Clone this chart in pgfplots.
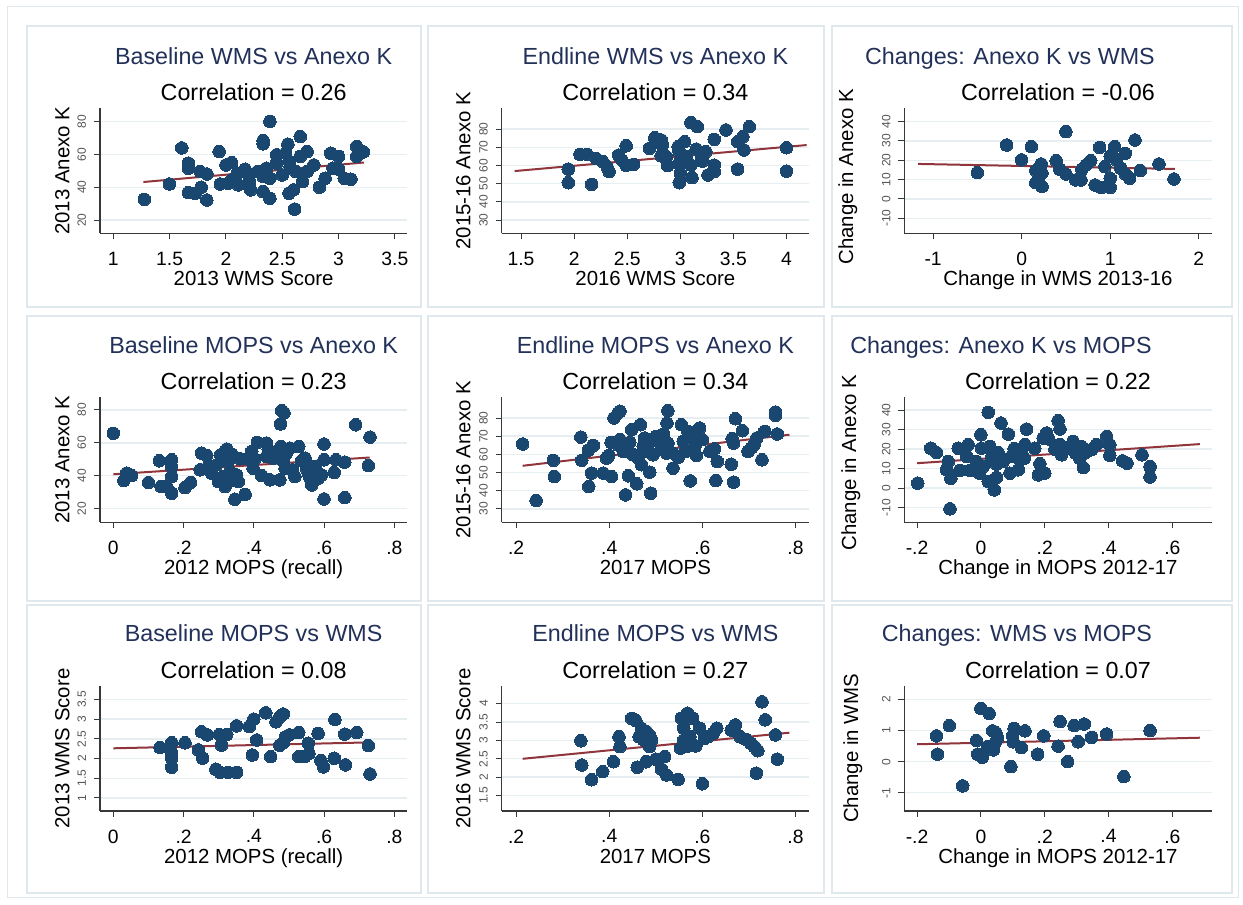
\documentclass[border=0pt]{standalone}
\usepackage{fontspec}
\setmainfont{Liberation Sans}
\usepackage{pgfplots}
\pgfplotsset{compat=1.18}
\definecolor{stnavy}{RGB}{26,71,111}
\definecolor{stmaroon}{RGB}{144,53,59}
\definecolor{sttitle}{RGB}{34,49,89}
\definecolor{stgrid}{RGB}{230,238,241}
\definecolor{stframe}{RGB}{222,232,237}
\definecolor{sttick}{RGB}{85,85,85}
\newcommand{\tfont}{\fontsize{23.3}{27}\selectfont}
\newcommand{\lfont}{\fontsize{20.4}{24}\selectfont}
\newcommand{\xtfont}{\fontsize{19.3}{22}\selectfont}
\newcommand{\ytfont}{\fontsize{12}{14}\selectfont}
\pgfplotsset{
  stata/.style={
    scale only axis, width=307.3pt, height=125pt,
    anchor=south west,
    axis x line*=bottom, axis y line*=left,
    axis line style={black!78, line width=1.1pt, -},
    tick align=outside, major tick length=6pt,
    tick style={black!78, line width=1pt},
    ymajorgrids, grid style={stgrid, line width=1.4pt},
    clip=false,
    xticklabel style={font=\xtfont, anchor=north, inner sep=0pt},
    xticklabel shift=12.5pt,
    yticklabel style={font=\ytfont, color=sttick, rotate=90, anchor=south, inner sep=0pt},
    yticklabel shift=7.7pt,
    title style={font=\tfont, color=sttitle, anchor=base, inner sep=0pt},
    xlabel style={font=\lfont, anchor=base, inner sep=0pt, at={([yshift=-52.3pt]axis description cs:0.5,0)}},
    ylabel style={font=\lfont, anchor=base, inner sep=0pt},
  },
  dots/.style={only marks, mark=*, mark size=6.3pt, mark options={fill=stnavy, draw=stnavy, line width=0pt}},
  fitl/.style={no marks, stmaroon, line width=2pt},
}
\newcommand{\subt}[1]{\node[font=\tfont, anchor=base, inner sep=0pt] at ([yshift=7.5pt]rel axis cs:0.5,1) {#1};}
\begin{document}
\begin{tikzpicture}[x=1pt,y=1pt]
\path[fill=white] (0pt,0pt) rectangle (1243pt,905pt);
\useasboundingbox (0pt,0pt) rectangle (1243pt,905pt);
\draw[stframe, line width=1pt] (7pt,7pt) rectangle (1238pt,898pt);
\foreach \xa/\xb in {27/421,428/824,832/1232}{
  \foreach \ya/\yb in {598/879,304/589,12/300}{
    \draw[stframe, line width=1.2pt] (\xa pt,\ya pt) rectangle (\xb pt,\yb pt);
  }
}
% ---------- Panel 1
\begin{axis}[stata, at={(100pt,671.7pt)},
  xmin=0.882, xmax=3.61, ymin=11.9, ymax=88.2,
  xtick={1,1.5,2,2.5,3,3.5}, xticklabels={1,1.5,2,2.5,3,3.5},
  ytick={20,40,60,80}, yticklabels={20,40,60,80},
  title={Baseline WMS vs Anexo K}, title style={at={([yshift=38pt]axis description cs:0.5,1)}},
  xlabel={2013 WMS Score},
  ylabel={2013 Anexo K}, ylabel style={at={([xshift=-30.7pt]axis description cs:0,0.5)}}]
\addplot[dots] coordinates {
(1.276,32.6)(1.498,42.0)(1.608,64.0)(1.667,54.7)(1.667,51.6)(1.667,36.7)(1.727,36.3)
(1.771,49.6)(1.78,40.0)(1.83,48.1)(1.83,32.2)(1.94,61.8)(1.95,42.0)(2.0,53.6)(2.02,42.4)
(2.05,55.1)(2.10,48.6)(2.11,41.4)(2.17,51.0)(2.19,48.6)(2.21,43.4)(2.22,38.4)(2.28,49.6)
(2.33,68.5)(2.33,66.5)(2.33,46.5)(2.33,37.3)(2.36,51.6)(2.39,80.2)(2.39,45.5)(2.39,33.3)
(2.45,59.8)(2.45,54.7)(2.50,47.5)(2.53,60.8)(2.55,66.3)(2.56,36.3)(2.57,52.6)(2.60,38.4)
(2.62,49.6)(2.61,26.7)(2.66,71.0)(2.66,58.8)(2.68,43.4)(2.72,61.8)(2.72,49.6)(2.78,53.6)
(2.83,40.0)(2.88,45.5)(2.93,60.8)(2.95,51.6)(3.0,58.8)(3.0,51.0)(3.05,45.5)(3.11,44.9)
(3.16,64.9)(3.16,58.8)(3.22,61.6)(2.06,45.0)(2.56,56.0)};
\addplot[fitl] coordinates {(1.267,43.2)(3.224,55.1)};
\subt{Correlation = 0.26}
\end{axis}
% ---------- Panel 2
\begin{axis}[stata, at={(501.7pt,671.7pt)},
  xmin=1.318, xmax=4.212, ymin=22.7, ymax=91.4,
  xtick={1.5,2,2.5,3,3.5,4}, xticklabels={1.5,2,2.5,3,3.5,4},
  ytick={30,40,50,60,70,80}, yticklabels={30,40,50,60,70,80},
  title={Endline WMS vs Anexo K}, title style={at={([yshift=38pt]axis description cs:0.5,1)}},
  xlabel={2016 WMS Score},
  ylabel={2015-16 Anexo K}, ylabel style={at={([xshift=-31.4pt]axis description cs:0,0.5)}}]
\addplot[dots] coordinates {
(1.945,58.0)(1.945,50.5)(2.055,66.1)(2.118,66.1)(2.165,49.6)(2.21,63.7)(2.27,62.1)
(2.31,59.3)(2.33,56.6)(2.42,65.7)(2.45,63.0)(2.49,70.8)(2.49,60.0)(2.56,60.6)(2.71,69.4)
(2.76,75.2)(2.82,74.0)(2.83,71.0)(2.82,65.3)(2.88,59.9)(2.87,64.8)(2.98,70.3)(2.99,67.5)
(2.99,61.1)(3.0,55.6)(2.99,50.5)(3.04,73.0)(3.06,64.8)(3.10,83.5)(3.10,60.2)(3.11,53.3)
(3.16,81.3)(3.15,69.0)(3.20,64.8)(3.21,62.4)(3.26,54.7)(3.32,74.3)(3.32,60.2)(3.32,56.6)
(3.43,79.5)(3.54,73.0)(3.54,58.0)(3.59,75.8)(3.60,68.5)(3.65,81.3)(4.0,69.7)(4.0,56.9)
(3.24,67.5)};
\addplot[fitl] coordinates {(1.44,56.9)(4.19,71.2)};
\subt{Correlation = 0.34}
\end{axis}
% ---------- Panel 3
\begin{axis}[stata, at={(904.3pt,671.7pt)},
  xmin=-1.325, xmax=2.145, ymin=-17.8, ymax=46.9,
  xtick={-1,0,1,2}, xticklabels={-1,0,1,2},
  ytick={-10,0,10,20,30,40}, yticklabels={-10,0,10,20,30,40},
  title={Changes: Anexo K vs WMS}, title style={at={([xshift=-48pt,yshift=38pt]axis description cs:0.5,1)}},
  xlabel={Change in WMS 2013-16},
  ylabel={Change in Anexo K}, ylabel style={at={([xshift=-51.3pt,yshift=-6pt]axis description cs:0,0.5)}}]
\addplot[dots] coordinates {
(-0.50,13.6)(-0.17,27.9)(0.0,20.2)(0.11,27.1)(0.16,14.7)(0.16,8.4)(0.22,18.1)(0.23,6.4)
(0.23,13.3)(0.39,19.8)(0.43,15.3)(0.50,34.8)(0.50,12.9)(0.61,9.8)(0.67,9.8)(0.68,15.3)
(0.73,17.6)(0.78,19.8)(0.83,7.2)(0.88,26.7)(0.90,5.9)(0.94,16.7)(1.0,22.2)(1.0,10.7)
(1.0,5.9)(1.05,27.1)(1.07,20.2)(1.12,15.9)(1.17,23.6)(1.17,12.9)(1.22,10.7)(1.28,30.5)
(1.34,14.7)(1.55,18.1)(1.72,10.3)};
\addplot[fitl] coordinates {(-1.17,18.1)(1.73,15.5)};
\subt{Correlation = -0.06}
\end{axis}
% ---------- Panel 4
\begin{axis}[stata, at={(100pt,382.7pt)},
  xmin=-0.038, xmax=0.837, ymin=11.7, ymax=87.7,
  xtick={0,0.2,0.4,0.6,0.8}, xticklabels={0,.2,.4,.6,.8},
  ytick={20,40,60,80}, yticklabels={20,40,60,80},
  title={Baseline MOPS vs Anexo K}, title style={at={([yshift=38pt]axis description cs:0.5,1)}},
  xlabel={2012 MOPS (recall)},
  ylabel={2013 Anexo K}, ylabel style={at={([xshift=-30.7pt]axis description cs:0,0.5)}}]
\addplot[dots] coordinates {
(0.0,65.8)(0.030,37.1)(0.038,41.6)(0.052,40.1)(0.10,35.9)(0.131,49.1)(0.136,33.4)
(0.152,33.4)(0.166,49.7)(0.166,45.6)(0.166,39.5)(0.166,29.4)(0.204,32.8)(0.22,35.9)
(0.251,53.8)(0.247,43.6)(0.266,52.3)(0.27,45.6)(0.28,41.6)(0.294,46.6)(0.299,36.5)
(0.305,52.7)(0.313,39.5)(0.318,33.4)(0.323,56.2)(0.327,48.7)(0.332,42.6)(0.337,53.2)
(0.342,37.5)(0.346,25.7)(0.351,40.5)(0.356,36.5)(0.375,28.7)(0.361,50.3)(0.38,50.3)
(0.394,54.8)(0.398,44.6)(0.403,50.3)(0.41,60.3)(0.422,40.1)(0.436,59.9)(0.441,56.2)
(0.446,37.5)(0.455,50.7)(0.465,54.8)(0.474,37.5)(0.476,71.5)(0.479,79.6)(0.486,78.2)
(0.477,57.8)(0.484,48.7)(0.489,44.6)(0.493,53.8)(0.503,56.8)(0.51,43.6)(0.517,39.5)
(0.528,57.8)(0.536,49.1)(0.546,50.7)(0.55,44.6)(0.555,41.6)(0.56,38.5)(0.565,34.4)
(0.574,45.6)(0.583,38.5)(0.593,40.5)(0.60,59.3)(0.60,49.7)(0.60,25.9)(0.629,42.0)
(0.634,49.7)(0.659,48.3)(0.659,26.7)(0.69,71.0)(0.726,46.2)(0.731,63.5)(0.436,51.7)};
\addplot[fitl] coordinates {(0,40.9)(0.73,51.1)};
\subt{Correlation = 0.23}
\end{axis}
% ---------- Panel 5
\begin{axis}[stata, at={(501.7pt,382.7pt)},
  xmin=0.169, xmax=0.829, ymin=22.6, ymax=91.4,
  xtick={0.2,0.4,0.6,0.8}, xticklabels={.2,.4,.6,.8},
  ytick={30,40,50,60,70,80}, yticklabels={30,40,50,60,70,80},
  title={Endline MOPS vs Anexo K}, title style={at={([yshift=38pt]axis description cs:0.5,1)}},
  xlabel={2017 MOPS},
  ylabel={2015-16 Anexo K}, ylabel style={at={([xshift=-31.4pt]axis description cs:0,0.5)}}]
\addplot[dots] coordinates {
(0.214,65.7)(0.243,34.6)(0.28,56.7)(0.282,47.8)(0.339,69.5)(0.341,56.7)(0.355,62.2)
(0.356,42.3)(0.362,49.7)(0.366,64.9)(0.387,49.7)(0.399,59.4)(0.404,66.6)(0.405,47.8)
(0.41,80.0)(0.419,82.8)(0.423,83.7)(0.419,65.3)(0.423,68.1)(0.43,61.6)(0.435,37.7)
(0.441,48.2)(0.444,66.6)(0.448,73.6)(0.451,59.8)(0.459,43.8)(0.462,57.9)(0.467,76.3)
(0.469,54.3)(0.473,64.4)(0.476,69.0)(0.48,61.6)(0.487,66.6)(0.487,50.2)(0.489,38.6)
(0.494,59.8)(0.501,69.9)(0.512,63.5)(0.516,71.2)(0.523,60.7)(0.526,84.0)(0.524,77.2)
(0.526,66.2)(0.537,52.4)(0.548,58.3)(0.555,76.3)(0.559,67.1)(0.564,61.6)(0.569,72.6)
(0.574,45.4)(0.579,69.0)(0.584,64.4)(0.587,59.4)(0.591,69.9)(0.594,74.5)(0.6,68.1)
(0.616,61.6)(0.626,63.1)(0.629,45.6)(0.632,56.1)(0.662,54.6)(0.664,68.6)(0.667,66.2)
(0.667,44.7)(0.671,79.6)(0.686,73.0)(0.698,61.6)(0.705,63.5)(0.712,65.7)(0.717,69.0)
(0.728,57.0)(0.734,72.6)(0.757,83.3)(0.757,81.5)(0.761,71.2)(0.394,57.9)(0.537,60.7)};
\addplot[fitl] coordinates {(0.214,53.7)(0.787,70.8)};
\subt{Correlation = 0.34}
\end{axis}
% ---------- Panel 6
\begin{axis}[stata, at={(904.3pt,382.7pt)},
  xmin=-0.240, xmax=0.723, ymin=-17.5, ymax=46.6,
  xtick={-0.2,0,0.2,0.4,0.6}, xticklabels={-.2,0,.2,.4,.6},
  ytick={-10,0,10,20,30,40}, yticklabels={-10,0,10,20,30,40},
  title={Changes: Anexo K vs MOPS}, title style={at={([xshift=-57pt,yshift=38pt]axis description cs:0.5,1)}},
  xlabel={Change in MOPS 2012-17},
  ylabel={Change in Anexo K}, ylabel style={at={([xshift=-48.3pt,yshift=-3pt]axis description cs:0,0.5)}}]
\addplot[dots] coordinates {
(-0.198,2.6)(-0.157,20.5)(-0.139,18.3)(-0.102,13.7)(-0.108,9.4)(-0.097,-10.6)(-0.094,5.1)
(-0.071,20.5)(-0.066,9.1)(-0.040,22.3)(-0.045,16.3)(-0.034,9.1)(-0.014,13.7)(-0.005,7.7)
(0.0,27.4)(0.002,20.5)(0.007,11.1)(0.023,38.9)(0.023,3.4)(0.028,21.4)(0.033,15.4)
(0.039,18.8)(0.042,-0.9)(0.049,12.3)(0.049,5.5)(0.054,18.3)(0.063,33.4)(0.07,13.7)
(0.086,27.7)(0.091,7.7)(0.096,16.3)(0.104,20.2)(0.117,9.4)(0.127,18.8)(0.136,15.4)
(0.138,22.3)(0.143,30.3)(0.169,20.5)(0.180,6.8)(0.185,12.5)(0.195,25.7)(0.2,7.7)
(0.206,28.3)(0.213,25.2)(0.232,20.0)(0.242,34.6)(0.248,30.3)(0.248,22.3)(0.253,17.1)
(0.268,20.5)(0.289,24.0)(0.297,18.0)(0.31,15.4)(0.315,21.4)(0.321,10.6)(0.326,18.0)
(0.347,19.7)(0.362,22.3)(0.394,26.5)(0.404,22.3)(0.404,16.8)(0.444,14.0)(0.458,12.8)
(0.505,17.1)(0.53,11.1)(0.53,5.7)(0.122,14.6)};
\addplot[fitl] coordinates {(-0.2,12.8)(0.686,22.6)};
\subt{Correlation = 0.22}
\end{axis}
% ---------- Panel 7
\begin{axis}[stata, at={(100pt,94pt)},
  xmin=-0.038, xmax=0.837, ymin=0.67, ymax=3.84,
  xtick={0,0.2,0.4,0.6,0.8}, xticklabels={0,.2,.4,.6,.8},
  ytick={1,1.5,2,2.5,3,3.5}, yticklabels={1,1.5,2,2.5,3,3.5},
  title={Baseline MOPS vs WMS}, title style={at={([yshift=38pt]axis description cs:0.5,1)}},
  xlabel={2012 MOPS (recall)},
  ylabel={2013 WMS Score}, ylabel style={at={([xshift=-30.7pt]axis description cs:0,0.5)}}]
\addplot[dots] coordinates {
(0.133,2.28)(0.166,2.40)(0.166,2.13)(0.166,2.01)(0.166,1.78)(0.204,2.40)(0.242,2.22)
(0.251,2.68)(0.254,2.01)(0.268,2.60)(0.292,1.73)(0.302,2.61)(0.304,1.65)(0.308,2.34)
(0.323,2.61)(0.327,1.65)(0.351,1.65)(0.351,2.83)(0.387,2.81)(0.396,2.09)(0.40,3.0)
(0.408,2.47)(0.434,3.16)(0.448,2.05)(0.463,2.93)(0.474,3.06)(0.484,3.13)(0.474,2.34)
(0.484,2.40)(0.501,2.60)(0.528,2.66)(0.528,2.05)(0.546,2.06)(0.555,2.39)(0.557,2.13)
(0.583,2.64)(0.591,1.95)(0.598,1.79)(0.631,2.99)(0.629,2.01)(0.659,2.62)(0.661,1.84)
(0.693,2.66)(0.726,2.33)(0.731,1.61)(0.49,2.54)};
\addplot[fitl] coordinates {(0,2.26)(0.73,2.41)};
\subt{Correlation = 0.08}
\end{axis}
% ---------- Panel 8
\begin{axis}[stata, at={(501.7pt,94pt)},
  xmin=0.169, xmax=0.829, ymin=1.08, ymax=4.48,
  xtick={0.2,0.4,0.6,0.8}, xticklabels={.2,.4,.6,.8},
  ytick={1.5,2,2.5,3,3.5,4}, yticklabels={1.5,2,2.5,3,3.5,4},
  title={Endline MOPS vs WMS}, title style={at={([yshift=38pt]axis description cs:0.5,1)}},
  xlabel={2017 MOPS},
  ylabel={2016 WMS Score}, ylabel style={at={([xshift=-31.4pt]axis description cs:0,0.5)}}]
\addplot[dots] coordinates {
(0.339,2.99)(0.341,2.33)(0.362,1.93)(0.386,2.15)(0.409,2.42)(0.421,3.10)(0.423,2.83)
(0.448,3.60)(0.457,3.54)(0.46,2.27)(0.464,3.10)(0.469,3.33)(0.474,3.01)(0.479,2.42)
(0.48,3.24)(0.486,3.15)(0.487,2.83)(0.491,3.01)(0.50,2.49)(0.512,2.22)(0.519,2.56)
(0.523,2.06)(0.548,1.94)(0.553,2.79)(0.555,3.60)(0.56,3.33)(0.56,3.01)(0.566,2.83)
(0.568,3.74)(0.579,3.60)(0.586,2.85)(0.594,3.33)(0.60,1.82)(0.605,3.06)(0.612,3.10)
(0.623,3.19)(0.631,3.33)(0.662,3.28)(0.671,3.42)(0.681,3.10)(0.693,3.03)(0.704,2.92)
(0.712,2.83)(0.716,2.11)(0.719,2.72)(0.728,4.05)(0.735,3.56)(0.757,3.15)(0.761,2.49)
(0.573,3.10)};
\addplot[fitl] coordinates {(0.214,2.50)(0.787,3.21)};
\subt{Correlation = 0.27}
\end{axis}
% ---------- Panel 9
\begin{axis}[stata, at={(904.3pt,94pt)},
  xmin=-0.240, xmax=0.723, ymin=-1.586, ymax=2.433,
  xtick={-0.2,0,0.2,0.4,0.6}, xticklabels={-.2,0,.2,.4,.6},
  ytick={-1,0,1,2}, yticklabels={-1,0,1,2},
  title={Changes: WMS vs MOPS}, title style={at={([xshift=-41pt,yshift=38pt]axis description cs:0.5,1)}},
  xlabel={Change in MOPS 2012-17},
  ylabel={Change in WMS}, ylabel style={at={([xshift=-46.3pt]axis description cs:0,0.5)}}]
\addplot[dots] coordinates {
(-0.139,0.83)(-0.136,0.24)(-0.099,1.16)(-0.057,-0.78)(-0.014,0.68)(-0.010,0.24)(0.0,1.71)
(0.004,0.14)(0.021,0.48)(0.026,1.55)(0.037,0.99)(0.039,0.38)(0.044,0.59)(0.052,0.75)
(0.047,0.93)(0.094,-0.16)(0.099,0.83)(0.101,0.64)(0.104,1.07)(0.127,0.45)(0.138,0.99)
(0.178,0.24)(0.197,0.83)(0.242,0.50)(0.248,1.29)(0.272,0.0)(0.292,1.16)(0.305,0.64)
(0.324,1.21)(0.347,0.78)(0.394,0.89)(0.448,-0.48)(0.53,1.0)};
\addplot[fitl] coordinates {(-0.2,0.56)(0.686,0.77)};
\subt{Correlation = 0.07}
\end{axis}
\end{tikzpicture}
\end{document}
